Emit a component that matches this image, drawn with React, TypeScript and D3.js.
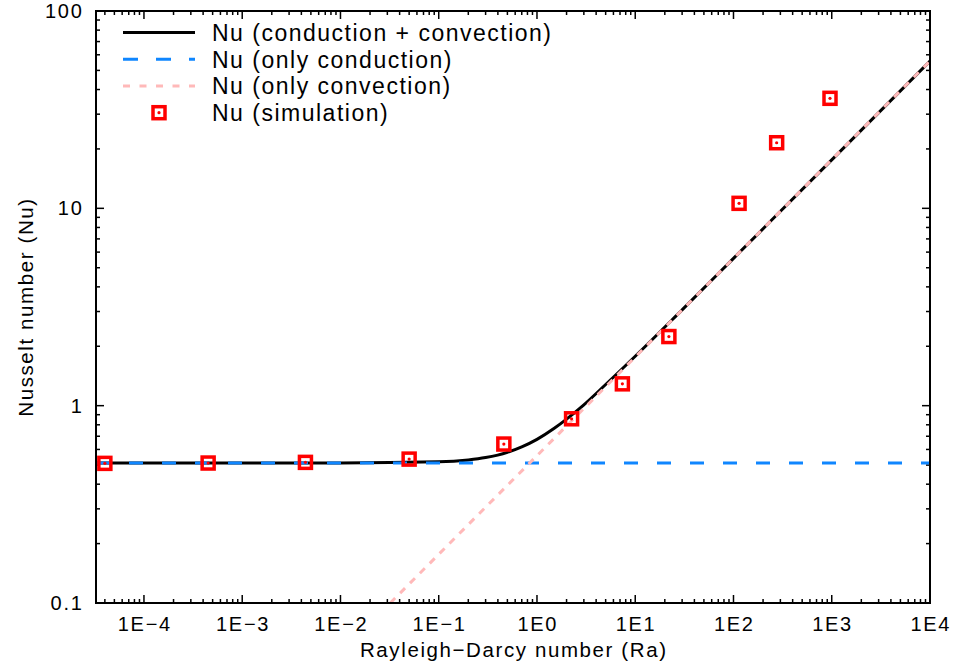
import React from "react";
import * as d3 from "d3";

// Axis ranges and tick labels
const raDomain = [3.25e-5, 1e4];
const nuDomain = [0.1, 100];
const xTickValues = [1e-4, 1e-3, 1e-2, 1e-1, 1, 1e1, 1e2, 1e3, 1e4];
const xTickLabels = ["1E−4", "1E−3", "1E−2", "1E−1", "1E0", "1E1", "1E2", "1E3", "1E4"];
const yTickValues = [0.1, 1, 10, 100];
const yTickLabels = ["0.1", "1", "10", "100"];

// Simulation results
const simRa = [4.0e-5, 4.5e-4, 4.4e-3, 0.05, 0.46, 2.25, 7.4, 22, 114, 275, 960];
const simNu = [0.51, 0.512, 0.516, 0.536, 0.639, 0.858, 1.29, 2.24, 10.6, 21.5, 36.1];

// Model: conduction + convection
const combinedRa = [3.25e-5, 0.01, 0.1, 0.2, 0.3, 0.5, 0.7, 1, 1.5, 2, 3, 5, 10, 30, 100, 1000, 10000];
const combinedNu = [0.512, 0.512, 0.519, 0.531, 0.546, 0.58, 0.618, 0.675, 0.768, 0.855, 1.01, 1.28, 1.78, 3.06, 5.58, 17.6, 55.8];

// Model: only conduction
const conductionRa = [3.25e-5, 1e4];
const conductionNu = [0.512, 0.512];

// Model: only convection
const convectionRa = [0.0321, 1e4];
const convectionNu = [0.1, 55.8];

const legendLabels = [
  "Nu (conduction + convection)",
  "Nu (only conduction)",
  "Nu (only convection)",
  "Nu (simulation)",
];

const W = 956;
const H = 670;
const plot = { left: 96, right: 930, top: 11, bottom: 603 };
const FONT = "'Liberation Sans', Arial, Helvetica, sans-serif";
const BLUE = "#0f86ff";
const PINK = "#ffb9b9";
const RED = "#ff0000";

type Pt = { ra: number; nu: number };
const zip = (ra: number[], nu: number[]): Pt[] => ra.map((r, i) => ({ ra: r, nu: nu[i] }));

function minorTicks(domain: number[]): number[] {
  const out: number[] = [];
  const k0 = Math.floor(Math.log10(domain[0]));
  const k1 = Math.ceil(Math.log10(domain[1]));
  for (let k = k0; k <= k1; k++) {
    for (let m = 2; m <= 9; m++) {
      const v = m * Math.pow(10, k);
      if (v >= domain[0] && v <= domain[1]) out.push(v);
    }
  }
  return out;
}

export default function App() {
  const x = d3.scaleLog().domain(raDomain).range([plot.left, plot.right]);
  const y = d3.scaleLog().domain(nuDomain).range([plot.bottom, plot.top]);

  const line = d3
    .line<Pt>()
    .x((d) => x(d.ra))
    .y((d) => y(d.nu))
    .curve(d3.curveMonotoneX);

  const combined = zip(combinedRa, combinedNu);
  const conduction = zip(conductionRa, conductionNu);
  const convection = zip(convectionRa, convectionNu);
  const sim = zip(simRa, simNu);

  const xMinor = minorTicks(raDomain);
  const yMinor = minorTicks(nuDomain);
  const MAJ = 8;
  const MIN = 4;

  const legendY = [32.5, 59.3, 86, 112.7];
  const sq = 12;

  return (
    <svg
      width={W}
      height={H}
      viewBox={`0 0 ${W} ${H}`}
      style={{ position: "absolute", left: 0, top: 0, background: "#fff" }}
      fontFamily={FONT}
    >
      <rect x={0} y={0} width={W} height={H} fill="#fff" />
      <defs>
        <clipPath id="plotArea">
          <rect x={plot.left} y={plot.top} width={plot.right - plot.left} height={plot.bottom - plot.top} />
        </clipPath>
      </defs>

      {/* tick marks on all four sides */}
      <g stroke="#000" strokeWidth={1.5}>
        {xTickValues.map((v) => (
          <g key={"xM" + v}>
            <line x1={x(v)} x2={x(v)} y1={plot.bottom} y2={plot.bottom - MAJ} />
            <line x1={x(v)} x2={x(v)} y1={plot.top} y2={plot.top + MAJ} />
          </g>
        ))}
        {xMinor.map((v) => (
          <g key={"xm" + v}>
            <line x1={x(v)} x2={x(v)} y1={plot.bottom} y2={plot.bottom - MIN} />
            <line x1={x(v)} x2={x(v)} y1={plot.top} y2={plot.top + MIN} />
          </g>
        ))}
        {yTickValues.map((v) => (
          <g key={"yM" + v}>
            <line x1={plot.left} x2={plot.left + MAJ} y1={y(v)} y2={y(v)} />
            <line x1={plot.right} x2={plot.right - MAJ} y1={y(v)} y2={y(v)} />
          </g>
        ))}
        {yMinor.map((v) => (
          <g key={"ym" + v}>
            <line x1={plot.left} x2={plot.left + MIN} y1={y(v)} y2={y(v)} />
            <line x1={plot.right} x2={plot.right - MIN} y1={y(v)} y2={y(v)} />
          </g>
        ))}
      </g>

      {/* model curves */}
      <g clipPath="url(#plotArea)" fill="none">
        <path d={line(combined) ?? ""} stroke="#000" strokeWidth={3} />
        <path d={line(conduction) ?? ""} stroke={BLUE} strokeWidth={3} strokeDasharray="14 19" />
        <path d={line(convection) ?? ""} stroke={PINK} strokeWidth={3} strokeDasharray="7 7" />
      </g>

      {/* simulation points */}
      <g>
        {sim.map((d, i) => (
          <g key={"s" + i} transform={`translate(${x(d.ra)},${y(d.nu)})`}>
            <rect x={-sq / 2} y={-sq / 2} width={sq} height={sq} fill="none" stroke={RED} strokeWidth={3.5} />
            <circle r={1.6} fill={RED} />
          </g>
        ))}
      </g>

      {/* frame */}
      <rect
        x={plot.left}
        y={plot.top}
        width={plot.right - plot.left}
        height={plot.bottom - plot.top}
        fill="none"
        stroke="#000"
        strokeWidth={2}
      />

      {/* tick labels */}
      <g fontSize={20} letterSpacing={1.7} fill="#000">
        {xTickValues.map((v, i) => (
          <text key={"xl" + v} x={x(v) + 0.85} y={631} textAnchor="middle">
            {xTickLabels[i]}
          </text>
        ))}
        {yTickValues.map((v, i) => (
          <text key={"yl" + v} x={83.5} y={y(v) + 7} textAnchor="end">
            {yTickLabels[i]}
          </text>
        ))}
      </g>

      {/* axis titles */}
      <text x={(plot.left + plot.right) / 2 + 0.8} y={657} textAnchor="middle" fontSize={20.5} letterSpacing={1.6}>
        Rayleigh−Darcy number (Ra)
      </text>
      <text
        transform={`translate(33,${(plot.top + plot.bottom) / 2}) rotate(-90)`}
        textAnchor="middle"
        fontSize={20.5}
        letterSpacing={1.6}
      >
        Nusselt number (Nu)
      </text>

      {/* legend */}
      <g>
        <line x1={123} x2={195} y1={legendY[0]} y2={legendY[0]} stroke="#000" strokeWidth={3} />
        <line x1={123} x2={195} y1={legendY[1]} y2={legendY[1]} stroke={BLUE} strokeWidth={3} strokeDasharray="15 18" />
        <line x1={123} x2={195} y1={legendY[2]} y2={legendY[2]} stroke={PINK} strokeWidth={3} strokeDasharray="7 9.5" />
        <g transform={`translate(159,${legendY[3]})`}>
          <rect x={-sq / 2} y={-sq / 2} width={sq} height={sq} fill="none" stroke={RED} strokeWidth={3.5} />
          <circle r={1.6} fill={RED} />
        </g>
        <g fontSize={23} letterSpacing={1.5}>
          {legendLabels.map((t, i) => (
            <text key={t} x={212} y={legendY[i] + 8.3}>
              {t}
            </text>
          ))}
        </g>
      </g>
    </svg>
  );
}
